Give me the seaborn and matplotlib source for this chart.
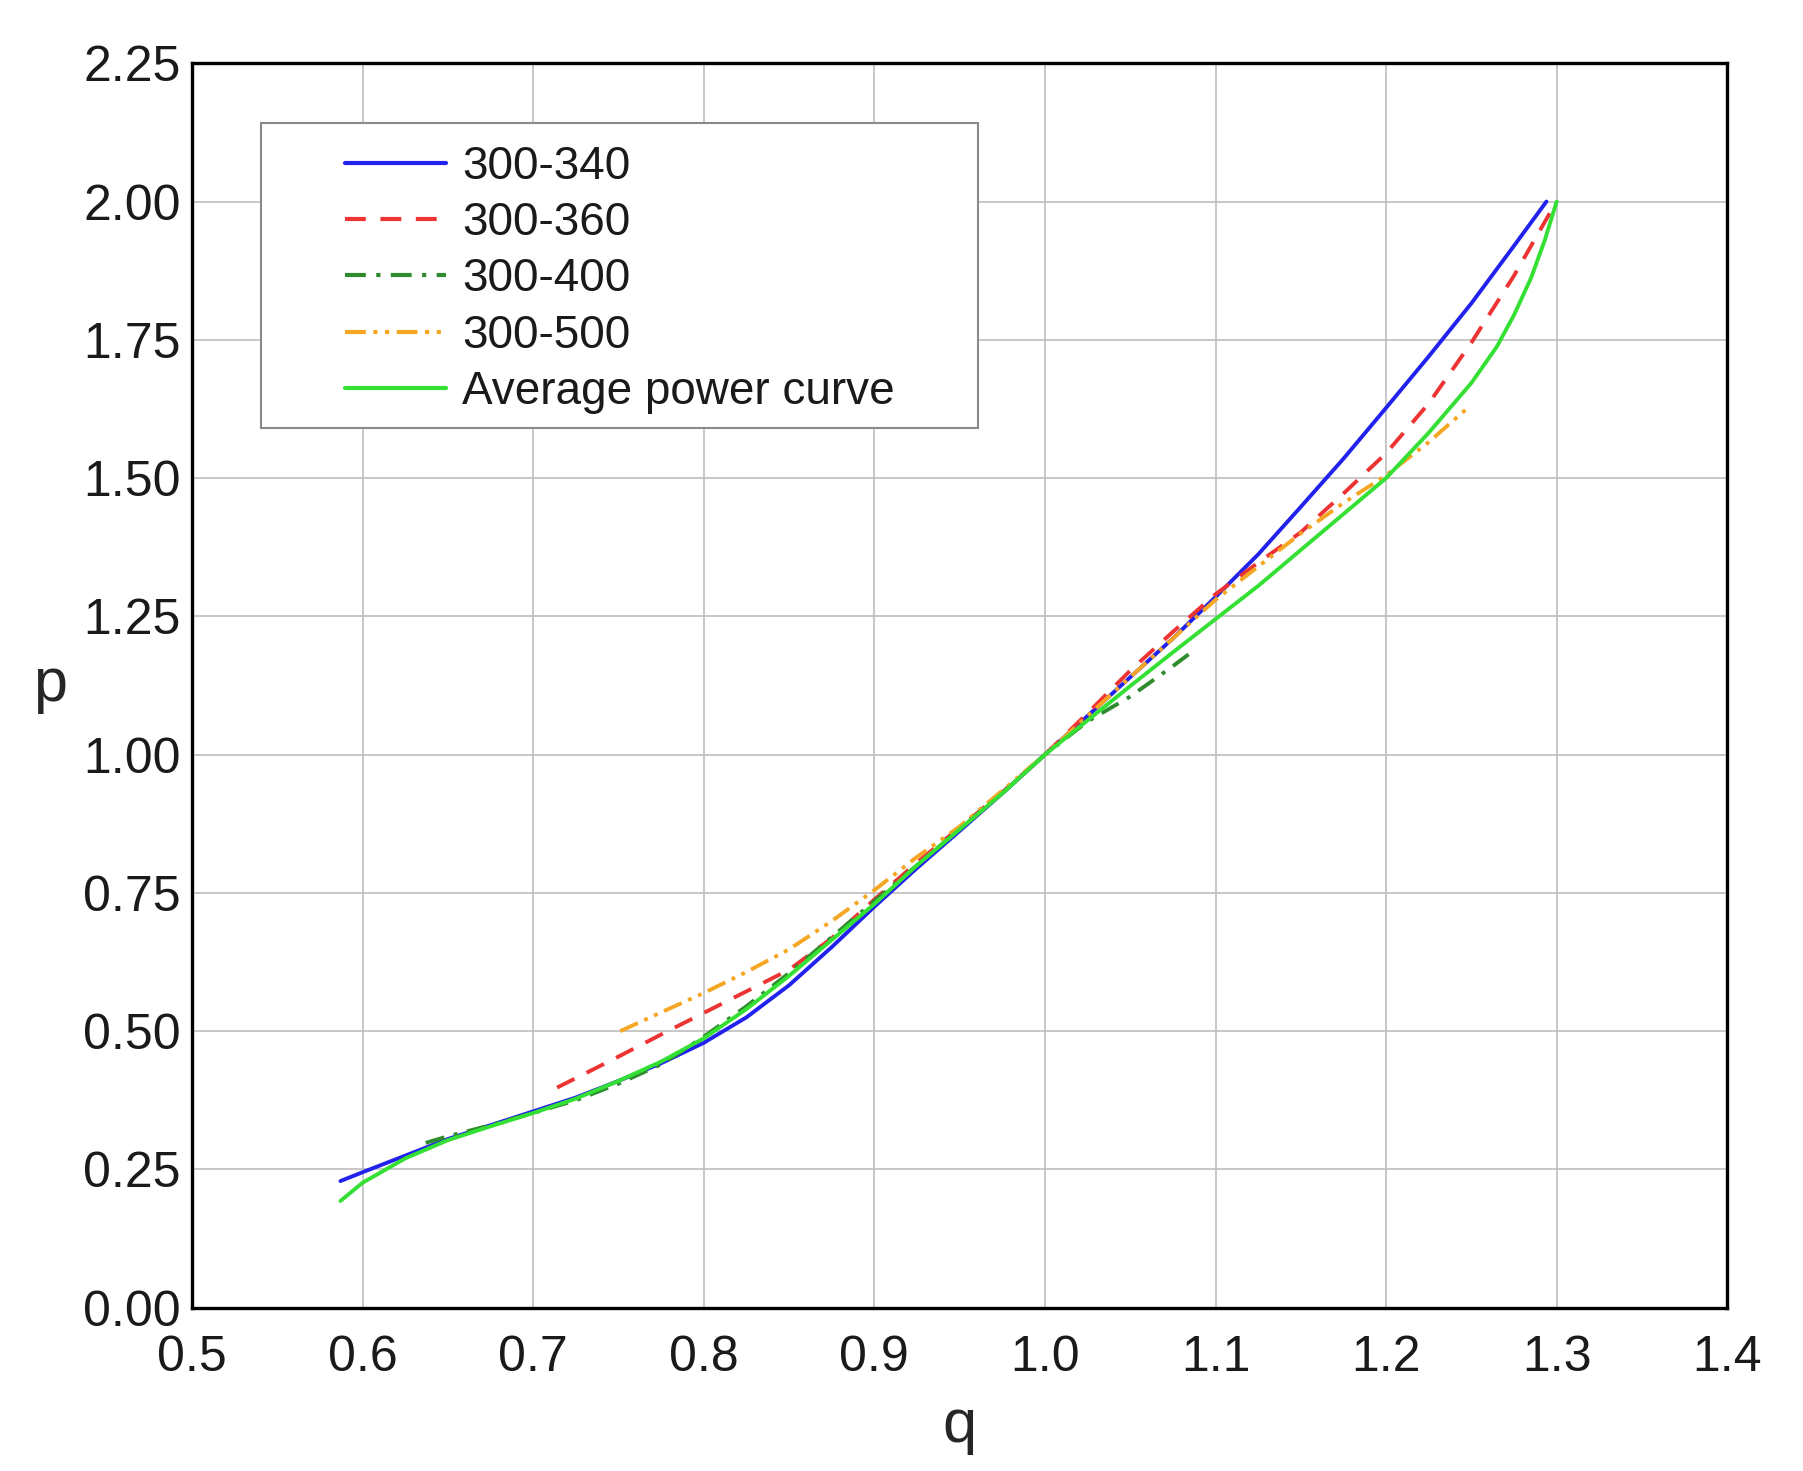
import numpy as np
import pandas as pd
import seaborn as sns
import matplotlib
matplotlib.use("Agg")
import matplotlib.pyplot as plt
from matplotlib.patches import Rectangle

# values
q_340 = [0.587, 0.60, 0.625, 0.65, 0.675, 0.70, 0.725, 0.75, 0.775, 0.80, 0.825, 0.85, 0.875, 0.90,
         0.925, 0.95, 0.975, 1.00, 1.025, 1.05, 1.075, 1.10, 1.125, 1.15, 1.175, 1.20, 1.225, 1.25, 1.275, 1.294]
p_340 = [0.229, 0.245, 0.275, 0.305, 0.330, 0.355, 0.380, 0.410, 0.442, 0.479, 0.525, 0.583, 0.652, 0.725,
         0.795, 0.862, 0.930, 1.000, 1.070, 1.140, 1.210, 1.285, 1.362, 1.448, 1.535, 1.627, 1.720, 1.816, 1.920, 2.000]

q_360 = [0.714, 0.725, 0.75, 0.775, 0.80, 0.825, 0.85, 0.875, 0.90, 0.925, 0.95, 0.975, 1.00, 1.025,
         1.05, 1.075, 1.10, 1.125, 1.15, 1.175, 1.20, 1.225, 1.25, 1.275, 1.298]
p_360 = [0.398, 0.415, 0.454, 0.494, 0.533, 0.572, 0.611, 0.668, 0.738, 0.805, 0.868, 0.932, 1.000, 1.075,
         1.152, 1.222, 1.290, 1.347, 1.402, 1.472, 1.545, 1.635, 1.745, 1.866, 1.990]

q_400 = [0.637, 0.65, 0.675, 0.70, 0.725, 0.75, 0.775, 0.80, 0.825, 0.85, 0.875, 0.90, 0.925, 0.95,
         0.975, 1.00, 1.025, 1.05, 1.075, 1.088]
p_400 = [0.298, 0.310, 0.330, 0.352, 0.375, 0.405, 0.440, 0.490, 0.545, 0.605, 0.670, 0.735, 0.800, 0.865,
         0.930, 1.000, 1.060, 1.105, 1.160, 1.190]

q_500 = [0.751, 0.775, 0.80, 0.825, 0.85, 0.875, 0.90, 0.925, 0.95, 0.975, 1.00, 1.025, 1.05, 1.075,
         1.10, 1.125, 1.15, 1.175, 1.20, 1.225, 1.249]
p_500 = [0.500, 0.534, 0.569, 0.607, 0.648, 0.699, 0.755, 0.815, 0.870, 0.935, 1.000, 1.070, 1.140, 1.210,
         1.280, 1.340, 1.400, 1.455, 1.505, 1.565, 1.630]

q_avg = [0.587, 0.60, 0.625, 0.65, 0.675, 0.70, 0.725, 0.75, 0.775, 0.80, 0.825, 0.85, 0.875, 0.90, 0.925,
         0.95, 0.975, 1.00, 1.025, 1.05, 1.075, 1.10, 1.125, 1.15, 1.175, 1.20, 1.225, 1.25, 1.265, 1.275,
         1.285, 1.293, 1.30]
p_avg = [0.193, 0.226, 0.270, 0.303, 0.328, 0.352, 0.378, 0.410, 0.445, 0.487, 0.540, 0.600, 0.665, 0.730, 0.800,
         0.865, 0.930, 1.000, 1.062, 1.124, 1.185, 1.245, 1.305, 1.370, 1.435, 1.500, 1.582, 1.672, 1.738, 1.795,
         1.862, 1.930, 2.000]

series = ["300-340", "300-360", "300-400", "300-500", "Average power curve"]
x_ticks = [0.5, 0.6, 0.7, 0.8, 0.9, 1.0, 1.1, 1.2, 1.3, 1.4]
y_ticks = [0.0, 0.25, 0.5, 0.75, 1.0, 1.25, 1.5, 1.75, 2.0, 2.25]

frames = []
for name, q, p in zip(series, [q_340, q_360, q_400, q_500, q_avg], [p_340, p_360, p_400, p_500, p_avg]):
    frames.append(pd.DataFrame({"q": q, "p": p, "series": name}))
df = pd.concat(frames, ignore_index=True)

colors = {"300-340": "#2222ee", "300-360": "#ee3333", "300-400": "#2e8b2e",
          "300-500": "#f5a623", "Average power curve": "#33e033"}
dashes = {"300-340": "", "300-360": (5, 3.5), "300-400": (5, 2.5, 1, 2.5),
          "300-500": (5, 1.8, 1, 1.8, 1, 1.8), "Average power curve": ""}

sns.set_style("whitegrid", {"grid.color": "#bdbdbd", "axes.edgecolor": "black"})
plt.rcParams["font.family"] = ["Liberation Sans", "DejaVu Sans"]
plt.rcParams["text.color"] = "#1a1a1a"
plt.rcParams["xtick.color"] = "#1a1a1a"
plt.rcParams["ytick.color"] = "#1a1a1a"

fig = plt.figure(figsize=(18.03, 14.71), dpi=100)
ax = fig.add_axes([0.1065, 0.111, 0.8515, 0.846])

sns.lineplot(data=df, x="q", y="p", hue="series", style="series", hue_order=series, style_order=series,
             palette=colors, dashes=dashes, sort=False, estimator=None, linewidth=2.8, ax=ax)

ax.set_xlim(0.5, 1.4)
ax.set_ylim(0, 2.25)
ax.set_xticks(x_ticks)
ax.set_yticks(y_ticks)
ax.set_xticklabels([f"{v:.1f}" for v in x_ticks])
ax.set_yticklabels([f"{v:.2f}" for v in y_ticks])
ax.tick_params(axis="x", length=0, pad=20, labelsize=36)
ax.tick_params(axis="y", length=0, pad=8, labelsize=36)
ax.grid(True, color="#bdbdbd", linewidth=1.2)
for s in ax.spines.values():
    s.set_color("black")
    s.set_linewidth(2.4)

ax.set_xlabel("q", fontsize=44, labelpad=12)
ax.set_ylabel("p", fontsize=44, rotation=0, labelpad=24, va="center")

# legend, frame drawn separately to get the wide left margin
handles, labels = ax.get_legend_handles_labels()
ax.get_legend().remove()
leg = ax.legend(handles, labels, loc="upper left", bbox_to_anchor=(0.085, 0.953), frameon=False,
                fontsize=33, handlelength=2.2, handletextpad=0.35, labelspacing=0.27, borderpad=0)
for h in leg.legend_handles:
    h.set_linewidth(3.0)
ax.add_patch(Rectangle((0.045, 0.707), 0.467, 0.245, transform=ax.transAxes, facecolor="white",
                       edgecolor="#8a8a8a", linewidth=1.5, zorder=4))
leg.set_zorder(5)

fig.savefig("out.png", dpi=100)
